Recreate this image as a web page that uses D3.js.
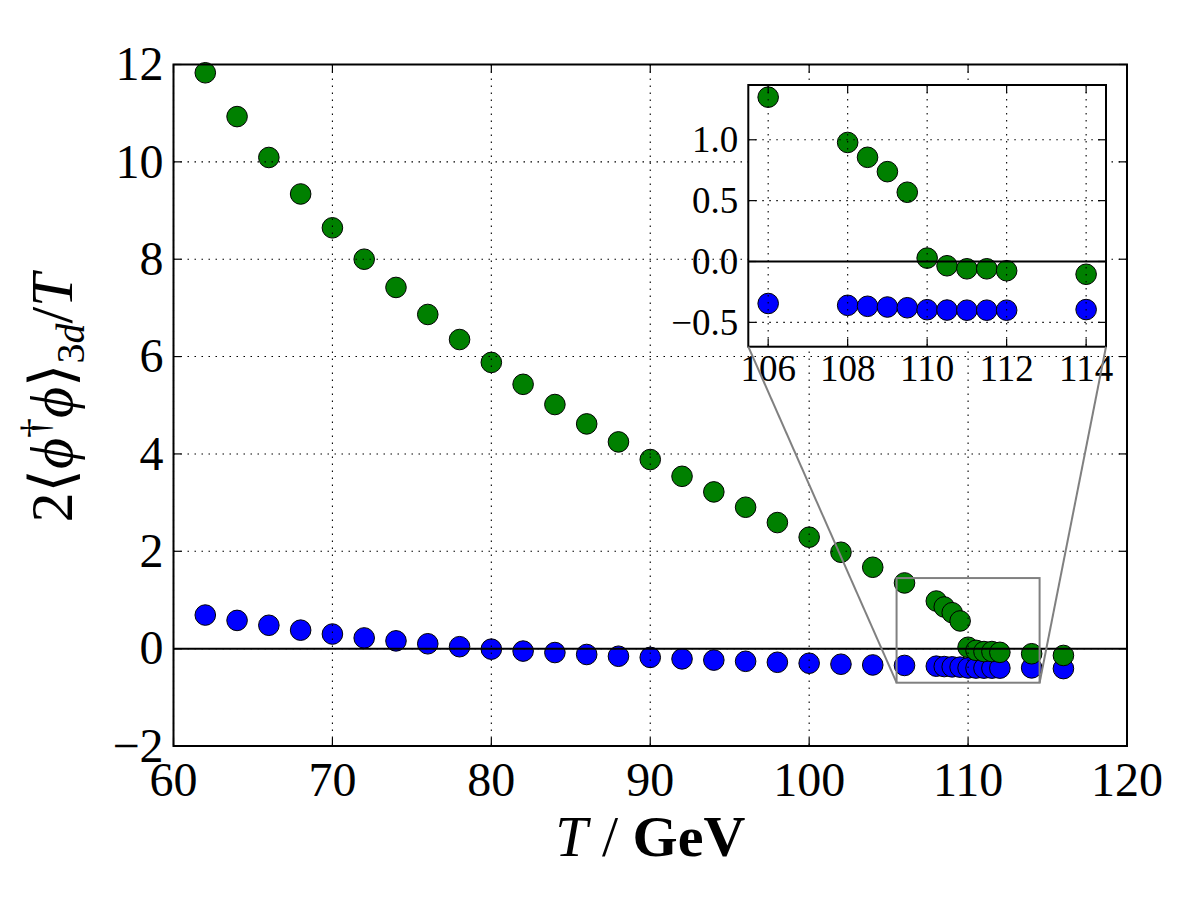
<!DOCTYPE html>
<html>
<head>
<meta charset="utf-8">
<script src="https://cdn.jsdelivr.net/npm/d3@7"></script>
<style>
  body { margin: 0; background: #fff; }
  svg { display: block; }
  text { font-family: "Liberation Serif", "DejaVu Serif", serif; fill: #000; }
</style>
</head>
<body>
<svg></svg>
<script>
// Set variables

let temps = [62, 64, 66, 68, 70, 72, 74, 76, 78, 80, 82, 84, 86, 88, 90, 92, 94, 96, 98, 100, 102, 104, 106,
             108, 108.5, 109, 109.5, 110, 110.5, 111, 111.5, 112, 114, 116]

let greenVals = [11.83, 10.93, 10.09, 9.34, 8.645, 8.0, 7.42, 6.865, 6.35, 5.88, 5.43, 5.015, 4.617, 4.247,
                 3.885, 3.54, 3.22, 2.905, 2.59, 2.29, 1.98, 1.672, 1.35,
                 0.978, 0.856, 0.738, 0.569, 0.028, -0.035, -0.06, -0.06, -0.076, -0.105, -0.14]

let blueVals = [0.69, 0.58, 0.48, 0.38, 0.30, 0.22, 0.16, 0.10, 0.04, -0.01, -0.05, -0.08, -0.12, -0.156,
                -0.18, -0.21, -0.235, -0.26, -0.28, -0.30, -0.32, -0.335, -0.345,
                -0.36, -0.368, -0.374, -0.38, -0.396, -0.399, -0.40, -0.40, -0.40, -0.395, -0.41]

let xTicks = [60, 70, 80, 90, 100, 110, 120]
let yTicks = [-2, 0, 2, 4, 6, 8, 10, 12]
let insetXTicks = [106, 108, 110, 112, 114]
let insetYTicks = [-0.5, 0.0, 0.5, 1.0]
let insetXRange = [105.5, 114.5]
let insetYRange = [-0.7, 1.45]

let width = 1200
let height = 900

let main = {left: 173.5, right: 1127, top: 64.5, bottom: 746}
let inset = {left: 748.3, right: 1106, top: 85, bottom: 346.7}

let svg = d3.select('svg').attr('width', width).attr('height', height)

let xScale = d3.scaleLinear().domain([60, 120]).range([main.left, main.right])
let yScale = d3.scaleLinear().domain([-2, 12]).range([main.bottom, main.top])

let ixScale = d3.scaleLinear().domain(insetXRange).range([inset.left, inset.right])
let iyScale = d3.scaleLinear().domain(insetYRange).range([inset.bottom, inset.top])

let points = temps.map((t, i) => ({t: t, g: greenVals[i], b: blueVals[i]}))

let minus = (s) => s.replace('-', '\u2212')

// Draw one set of axes (points, grid, zero line, frame, ticks)

let drawPanel = (g, box, xs, ys, xt, yt, data, fontSize, xFmt, yFmt, xLabelDy) => {

    g.append('rect')
        .attr('x', box.left).attr('y', box.top)
        .attr('width', box.right - box.left).attr('height', box.bottom - box.top)
        .attr('fill', '#fff')

    g.selectAll('circle.blue')
        .data(data)
        .enter()
        .append('circle')
        .attr('class', 'blue')
        .attr('cx', (d) => xs(d.t))
        .attr('cy', (d) => ys(d.b))
        .attr('r', 10.3)
        .attr('fill', '#0000ff')
        .attr('stroke', '#000')
        .attr('stroke-width', 1)

    g.selectAll('circle.green')
        .data(data)
        .enter()
        .append('circle')
        .attr('class', 'green')
        .attr('cx', (d) => xs(d.t))
        .attr('cy', (d) => ys(d.g))
        .attr('r', 10.3)
        .attr('fill', '#008000')
        .attr('stroke', '#000')
        .attr('stroke-width', 1)

    // grid
    g.selectAll('line.vgrid')
        .data(xt)
        .enter()
        .append('line')
        .attr('x1', (d) => xs(d)).attr('x2', (d) => xs(d))
        .attr('y1', box.top).attr('y2', box.bottom)
        .attr('stroke', '#000').attr('stroke-width', 1.1)
        .attr('stroke-dasharray', '1.5,5.5')

    g.selectAll('line.hgrid')
        .data(yt)
        .enter()
        .append('line')
        .attr('x1', box.left).attr('x2', box.right)
        .attr('y1', (d) => ys(d)).attr('y2', (d) => ys(d))
        .attr('stroke', '#000').attr('stroke-width', 1.1)
        .attr('stroke-dasharray', '1.5,5.5')

    // zero line
    g.append('line')
        .attr('x1', box.left).attr('x2', box.right)
        .attr('y1', ys(0)).attr('y2', ys(0))
        .attr('stroke', '#000').attr('stroke-width', 2)

    // ticks on all sides, pointing in
    let tickLen = 8
    xt.forEach((d) => {
        g.append('line').attr('x1', xs(d)).attr('x2', xs(d))
            .attr('y1', box.bottom).attr('y2', box.bottom - tickLen)
            .attr('stroke', '#000').attr('stroke-width', 1.2)
        g.append('line').attr('x1', xs(d)).attr('x2', xs(d))
            .attr('y1', box.top).attr('y2', box.top + tickLen)
            .attr('stroke', '#000').attr('stroke-width', 1.2)
    })
    yt.forEach((d) => {
        g.append('line').attr('y1', ys(d)).attr('y2', ys(d))
            .attr('x1', box.left).attr('x2', box.left + tickLen)
            .attr('stroke', '#000').attr('stroke-width', 1.2)
        g.append('line').attr('y1', ys(d)).attr('y2', ys(d))
            .attr('x1', box.right).attr('x2', box.right - tickLen)
            .attr('stroke', '#000').attr('stroke-width', 1.2)
    })

    // frame
    g.append('rect')
        .attr('x', box.left).attr('y', box.top)
        .attr('width', box.right - box.left).attr('height', box.bottom - box.top)
        .attr('fill', 'none').attr('stroke', '#000').attr('stroke-width', 2)

    // tick labels
    g.selectAll('text.xt')
        .data(xt)
        .enter()
        .append('text')
        .attr('x', (d) => xs(d))
        .attr('y', box.bottom + xLabelDy)
        .attr('text-anchor', 'middle')
        .style('font-size', fontSize + 'px')
        .text((d) => minus(xFmt(d)))

    g.selectAll('text.yt')
        .data(yt)
        .enter()
        .append('text')
        .attr('x', box.left - 10)
        .attr('y', (d) => ys(d))
        .attr('dy', '0.33em')
        .attr('text-anchor', 'end')
        .style('font-size', fontSize + 'px')
        .text((d) => minus(yFmt(d)))
}

// Main axes

let mainG = svg.append('g')
drawPanel(mainG, main, xScale, yScale, xTicks, yTicks, points, 48,
          d3.format('d'), d3.format('d'), 50)

// Axis labels

let xLabel = svg.append('text')
    .attr('x', (main.left + main.right) / 2)
    .attr('y', 856)
    .attr('text-anchor', 'middle')
    .style('font-size', '58px')
xLabel.append('tspan').style('font-style', 'italic').text('T')
xLabel.append('tspan').text(' / ')
xLabel.append('tspan').style('font-weight', 'bold').text('GeV')

let yLabel = svg.append('text')
    .attr('transform', 'translate(72, 398) rotate(-90)')
    .attr('text-anchor', 'middle')
    .style('font-size', '60px')
yLabel.append('tspan').text('2\u27E8')
yLabel.append('tspan').style('font-style', 'italic').text('\u03D5')
yLabel.append('tspan').attr('dy', -24).style('font-size', '40px').text('\u2020')
yLabel.append('tspan').attr('dy', 24).style('font-style', 'italic').text('\u03D5')
yLabel.append('tspan').text('\u27E9')
yLabel.append('tspan').attr('dy', 12).style('font-size', '40px').text('3')
yLabel.append('tspan').style('font-size', '40px').style('font-style', 'italic').text('d')
yLabel.append('tspan').attr('dy', -12).text('/')
yLabel.append('tspan').style('font-style', 'italic').text('T')

// Inset

let insetG = svg.append('g')
drawPanel(insetG, inset, ixScale, iyScale, insetXTicks, insetYTicks,
          points.filter((d) => d.t >= insetXRange[0] && d.t <= insetXRange[1]), 37,
          d3.format('d'), d3.format('.1f'), 34)

// Zoom box and connectors on the main axes

let zx0 = xScale(insetXRange[0]), zx1 = xScale(insetXRange[1])
let zy0 = yScale(insetYRange[0]), zy1 = yScale(insetYRange[1])

svg.append('rect')
    .attr('x', zx0).attr('y', zy1)
    .attr('width', zx1 - zx0).attr('height', zy0 - zy1)
    .attr('fill', 'none').attr('stroke', '#808080').attr('stroke-width', 2)

svg.append('line')
    .attr('x1', inset.left).attr('y1', inset.bottom)
    .attr('x2', zx0).attr('y2', zy0)
    .attr('stroke', '#808080').attr('stroke-width', 2)

svg.append('line')
    .attr('x1', inset.right).attr('y1', inset.bottom)
    .attr('x2', zx1).attr('y2', zy0)
    .attr('stroke', '#808080').attr('stroke-width', 2)
</script>
</body>
</html>
